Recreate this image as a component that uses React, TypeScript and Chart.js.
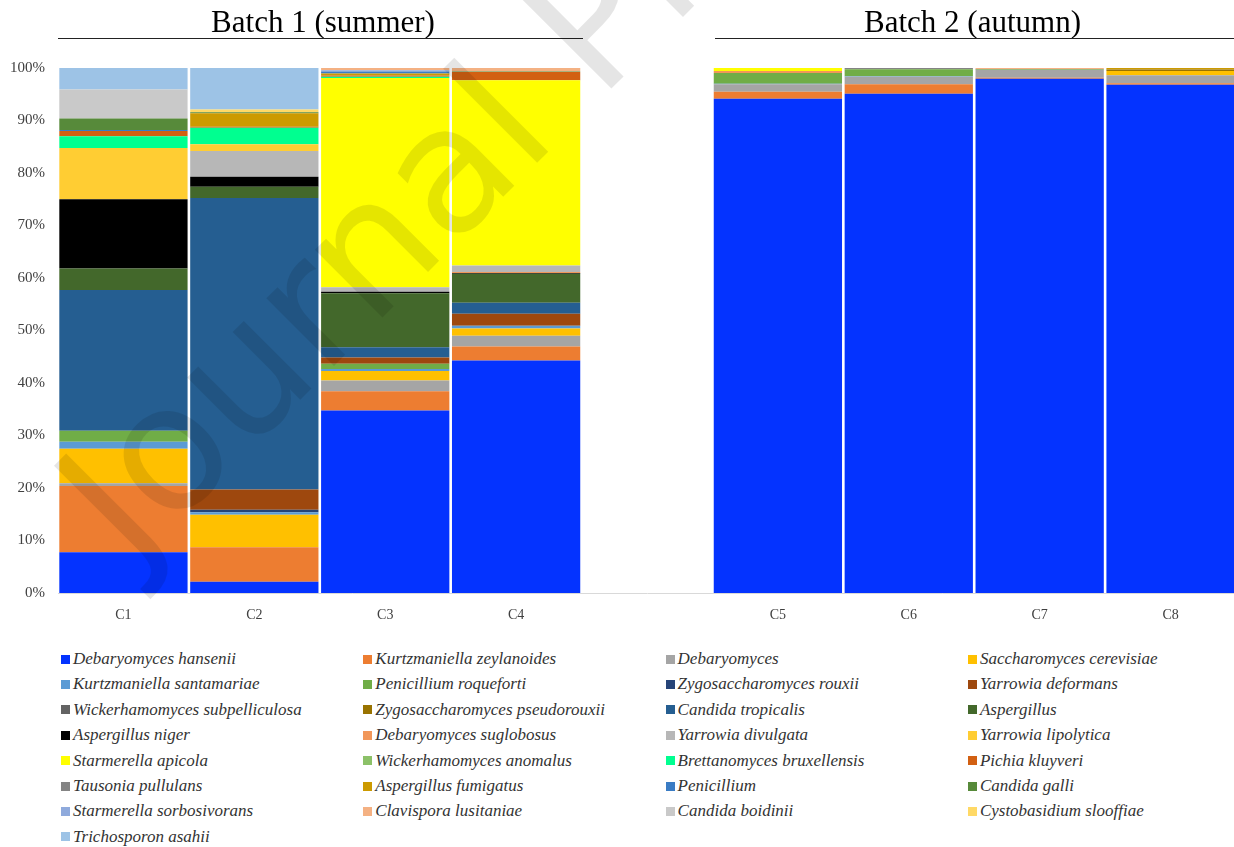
import React, { useEffect, useRef } from "react";
import { Chart, registerables } from "chart.js";

Chart.register(...registerables);

const categories = ["C1", "C2", "C3", "C4", "", "C5", "C6", "C7", "C8"];
const yTicks = [0, 10, 20, 30, 40, 50, 60, 70, 80, 90, 100];
const batchTitles = ["Batch 1 (summer)", "Batch 2 (autumn)"];

const hansenii = [7.75, 2.15, 34.76, 44.3, 0, 94.15, 95.1, 97.97, 96.83];
const zeylanoides = [12.65, 6.55, 3.69, 2.65, 0, 1.35, 1.8, 0.15, 0.25];
const debaryomyces = [0.5, 0, 2.05, 2.03, 0, 1.4, 1.45, 1.56, 1.52];
const cerevisiae = [6.6, 6.2, 1.8, 1.39, 0, 0, 0, 0, 0.83];
const santamariae = [1.3, 0.5, 0.35, 0.53, 0, 0.1, 0.1, 0, 0];
const roqueforti = [2.1, 0, 1.0, 0, 0, 2.05, 1.3, 0.12, 0];
const rouxii = [0, 0.45, 0, 0, 0, 0, 0, 0, 0];
const deformans = [0, 3.85, 1.2, 2.3, 0, 0, 0, 0, 0];
const subpelliculosa = [0, 0, 0, 0, 0, 0, 0, 0, 0];
const pseudorouxii = [0, 0, 0, 0, 0, 0, 0, 0, 0.3];
const tropicalis = [26.8, 55.55, 1.95, 2.1, 0, 0, 0, 0, 0];
const aspergillus = [4.1, 2.15, 10.3, 5.5, 0, 0, 0, 0, 0];
const niger = [13.2, 1.9, 0.26, 0.17, 0, 0, 0, 0, 0];
const suglobosus = [0, 0, 0, 0.19, 0, 0.38, 0, 0, 0];
const divulgata = [0, 4.9, 0.89, 1.2, 0, 0, 0, 0, 0];
const lipolytica = [9.76, 1.3, 0, 0, 0, 0, 0, 0, 0];
const apicola = [0, 0, 39.84, 35.29, 0, 0.57, 0, 0, 0];
const anomalus = [0, 0, 0, 0, 0, 0, 0, 0, 0];
const bruxellensis = [2.24, 3.1, 0.25, 0, 0, 0, 0, 0, 0];
const kluyveri = [1.0, 0.2, 0.25, 1.6, 0, 0, 0, 0, 0];
const tausonia = [0, 0, 0, 0, 0, 0, 0.25, 0, 0];
const fumigatus = [0, 2.6, 0.38, 0, 0, 0, 0, 0, 0.27];
const penicillium = [0.2, 0, 0.38, 0, 0, 0, 0, 0, 0];
const galli = [2.2, 0.15, 0, 0.1, 0, 0, 0, 0, 0];
const sorbosivorans = [0, 0, 0.2, 0, 0, 0, 0, 0, 0];
const clavispora = [0, 0, 0.45, 0.65, 0, 0, 0, 0.2, 0];
const boidinii = [5.5, 0, 0, 0, 0, 0, 0, 0, 0];
const slooffiae = [0, 0.55, 0, 0, 0, 0, 0, 0, 0];
const asahii = [4.1, 7.9, 0, 0, 0, 0, 0, 0, 0];

const seriesNames = [
  "Debaryomyces hansenii", "Kurtzmaniella zeylanoides", "Debaryomyces", "Saccharomyces cerevisiae",
  "Kurtzmaniella santamariae", "Penicillium roqueforti", "Zygosaccharomyces rouxii", "Yarrowia deformans",
  "Wickerhamomyces subpelliculosa", "Zygosaccharomyces pseudorouxii", "Candida tropicalis", "Aspergillus",
  "Aspergillus niger", "Debaryomyces suglobosus", "Yarrowia divulgata", "Yarrowia lipolytica",
  "Starmerella apicola", "Wickerhamomyces anomalus", "Brettanomyces bruxellensis", "Pichia kluyveri",
  "Tausonia pullulans", "Aspergillus fumigatus", "Penicillium", "Candida galli",
  "Starmerella sorbosivorans", "Clavispora lusitaniae", "Candida boidinii", "Cystobasidium slooffiae",
  "Trichosporon asahii",
];
const seriesValues = [
  hansenii, zeylanoides, debaryomyces, cerevisiae, santamariae, roqueforti, rouxii, deformans,
  subpelliculosa, pseudorouxii, tropicalis, aspergillus, niger, suglobosus, divulgata, lipolytica,
  apicola, anomalus, bruxellensis, kluyveri, tausonia, fumigatus, penicillium, galli,
  sorbosivorans, clavispora, boidinii, slooffiae, asahii,
];
const seriesColors = [
  "#0433FF", "#ED7D31", "#A5A5A5", "#FFC000", "#5B9BD5", "#70AD47", "#264478", "#9E480E",
  "#636363", "#997300", "#255E91", "#43682B", "#000000", "#F1975A", "#B7B7B7", "#FFCD33",
  "#FFFF00", "#8CC168", "#00FF90", "#D26012", "#848484", "#CC9A00", "#3A7CC4", "#578A3A",
  "#8FAADC", "#F4B183", "#C9C9C9", "#FFD966", "#9DC3E6",
];

const SERIF = "'Liberation Serif', 'Times New Roman', serif";

export default function App() {
  const ref = useRef<HTMLCanvasElement | null>(null);

  useEffect(() => {
    const canvas = ref.current;
    if (!canvas) return;
    const chart = new Chart(canvas, {
      type: "bar",
      data: {
        labels: categories,
        datasets: seriesNames.map((name, i) => ({
          label: name,
          data: seriesValues[i],
          backgroundColor: seriesColors[i],
          borderWidth: 0,
          barPercentage: 1,
          categoryPercentage: 0.98,
        })),
      },
      options: {
        responsive: false,
        animation: false,
        events: [],
        layout: { padding: { top: 68, bottom: 7, left: 0, right: 4 } },
        plugins: { legend: { display: false }, tooltip: { enabled: false }, title: { display: false } },
        scales: {
          x: {
            stacked: true,
            grid: { display: false, drawTicks: false },
            border: { display: true, color: "#D9D9D9", width: 1 },
            ticks: { font: { family: SERIF, size: 14 }, color: "#404040", padding: 14, maxRotation: 0, autoSkip: false },
            afterFit: (s: any) => { s.height = 40; },
          },
          y: {
            stacked: true,
            min: 0,
            max: 100,
            afterBuildTicks: (s: any) => { s.ticks = yTicks.map((v) => ({ value: v })); },
            grid: { display: false, drawTicks: false },
            border: { display: false },
            ticks: { font: { family: SERIF, size: 15 }, color: "#404040", padding: 13, callback: (v: any) => v + "%" },
            afterFit: (s: any) => { s.width = 58; },
          },
        },
      },
    });
    return () => chart.destroy();
  }, []);

  const cols = 4;
  return (
    <div style={{ position: "absolute", left: 0, top: 0, width: 1234, height: 847, overflow: "hidden", background: "#fff" }}>
      <canvas ref={ref} width={1240} height={640} style={{ position: "absolute", left: 0, top: 0 }} />
      {/* batch headers */}
      <div style={{ position: "absolute", left: 58, width: 530, top: 3, textAlign: "center", fontFamily: SERIF, fontSize: 31, lineHeight: "37px", color: "#000" }}>{batchTitles[0]}</div>
      <div style={{ position: "absolute", left: 58, width: 525, top: 38, height: 0, borderTop: "1.5px solid #222" }} />
      <div style={{ position: "absolute", left: 715, width: 515, top: 3, textAlign: "center", fontFamily: SERIF, fontSize: 31, lineHeight: "37px", color: "#000" }}>{batchTitles[1]}</div>
      <div style={{ position: "absolute", left: 715, width: 519, top: 38, height: 0, borderTop: "1.5px solid #222" }} />
      {/* legend */}
      {seriesNames.map((name, i) => {
        const col = i % cols;
        const row = Math.floor(i / cols);
        const left = 61 + col * 302.3;
        const cy = 659 + row * 25.4;
        return (
          <div key={name} style={{ position: "absolute", left, top: cy - 11, height: 22, display: "flex", alignItems: "center", whiteSpace: "nowrap" }}>
            <span style={{ display: "inline-block", width: 9, height: 9, background: seriesColors[i], marginRight: 3 }} />
            <span style={{ fontFamily: SERIF, fontStyle: "italic", fontSize: 17, color: "#333" }}>{name}</span>
          </div>
        );
      })}
      {/* watermark */}
      <svg width={1234} height={847} style={{ position: "absolute", left: 0, top: 0, pointerEvents: "none" }}>
        <text x={132} y={568} transform="rotate(-45 132 568)" fontFamily="'DejaVu Sans', sans-serif" fontSize={175} fill="rgba(0,0,0,0.1)">Journal Pre-proof</text>
      </svg>
    </div>
  );
}
